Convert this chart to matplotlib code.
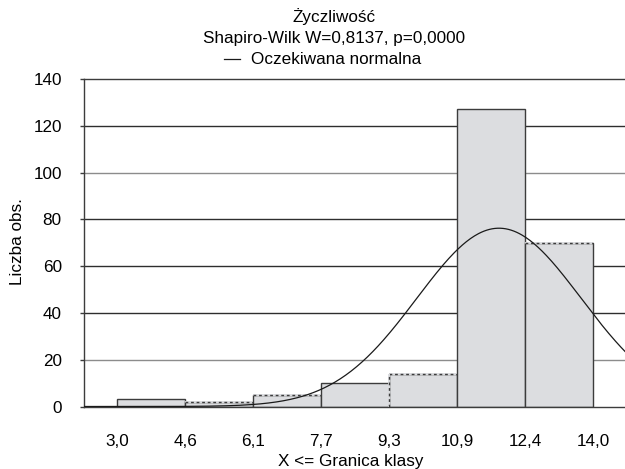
"""Histogram of class counts with the expected normal curve (STATISTICA style)."""

import matplotlib

matplotlib.use("Agg")
import matplotlib.pyplot as plt
import numpy as np

plt.rcParams["font.family"] = ["Liberation Sans", "DejaVu Sans"]

# class bounds (X <= upper bound) and counts
bin_edges = np.linspace(3.0, 14.0, 8)
counts = [3, 2, 5, 10, 14, 127, 70]
tick_labels = ["3,0", "4,6", "6,1", "7,7", "9,3", "10,9", "12,4", "14,0"]
y_ticks = [0, 20, 40, 60, 80, 100, 120, 140]

# fitted normal parameters (estimated from the curve)
fit_mean = 11.82
fit_sd = 1.90
n_obs = sum(counts)

title = "Życzliwość"
subtitle = "Shapiro-Wilk W=0,8137, p=0,0000"
legend_text = "Oczekiwana normalna"
x_label = "X <= Granica klasy"
y_label = "Liczba obs."

FILL = "#dcdde0"
EDGE = "#3c3c3c"
FS = 12.3
dashed_tops = {1, 2, 4, 6}

fig = plt.figure(figsize=(6.25, 4.69), dpi=100)
ax = fig.add_axes((84 / 625, 1 - 406.5 / 469, 541 / 625, 327.5 / 469))

width = bin_edges[1] - bin_edges[0]
x_lo = bin_edges[0] - 33.3 / 43.27
x_hi = bin_edges[-1] + 31.7 / 43.27
ax.set_xlim(x_lo, x_hi)
ax.set_ylim(0, 140)

for value in y_ticks[1:-1]:
    shade = "#8c8c8c" if value in (20, 100) else "#2e2e2e"
    ax.axhline(value, color=shade, linewidth=1.0, zorder=1)

ax.bar(
    bin_edges[:-1],
    counts,
    width=width,
    align="edge",
    color=FILL,
    edgecolor=EDGE,
    linewidth=1.0,
    zorder=2,
)
for index in dashed_tops:
    left = bin_edges[index]
    ax.hlines(counts[index], left, left + width, color=FILL, linewidth=1.4, zorder=3)
    ax.hlines(
        counts[index], left, left + width, color=EDGE, linewidth=1.0,
        linestyles=(0, (2, 2)), zorder=3,
    )
ax.vlines(bin_edges[4], 0, counts[4], color=FILL, linewidth=1.4, zorder=3)
ax.vlines(bin_edges[4], 0, counts[4], color=EDGE, linewidth=1.0,
          linestyles=(0, (2, 2)), zorder=3)

xs = np.linspace(x_lo, x_hi, 400)
expected = n_obs * width / (fit_sd * np.sqrt(2 * np.pi)) * np.exp(-0.5 * ((xs - fit_mean) / fit_sd) ** 2)
ax.plot(xs, expected, color="#1a1a1a", linewidth=0.9, zorder=4)

ax.set_xticks(bin_edges)
ax.set_xticklabels(tick_labels, fontsize=FS)
ax.tick_params(axis="x", length=0, pad=20)
ax.set_yticks(y_ticks)
ax.set_yticklabels([str(v) for v in y_ticks], fontsize=FS)
ax.tick_params(axis="y", length=3, width=1.0, color=EDGE, pad=13)

ax.spines["right"].set_visible(False)
for side in ("left", "top", "bottom"):
    ax.spines[side].set_color(EDGE)
    ax.spines[side].set_linewidth(1.0)

fig.text(18 / 625, 1 - 242 / 469, y_label, rotation=90, ha="center", va="center", fontsize=FS)
fig.text(351 / 625, 1 - 461 / 469, x_label, ha="center", va="center", fontsize=FS)

fig.text(334 / 625, 1 - 17 / 469, title, ha="center", va="center", fontsize=FS)
fig.text(334 / 625, 1 - 39 / 469, subtitle, ha="center", va="center", fontsize=FS)
fig.text(251 / 625, 1 - 59 / 469, legend_text, ha="left", va="center", fontsize=FS)
fig.add_artist(
    matplotlib.lines.Line2D(
        [224 / 625, 240 / 625], [1 - 59 / 469, 1 - 59 / 469],
        transform=fig.transFigure, color="#1a1a1a", linewidth=0.9,
    )
)

fig.savefig("out.png", dpi=100)
